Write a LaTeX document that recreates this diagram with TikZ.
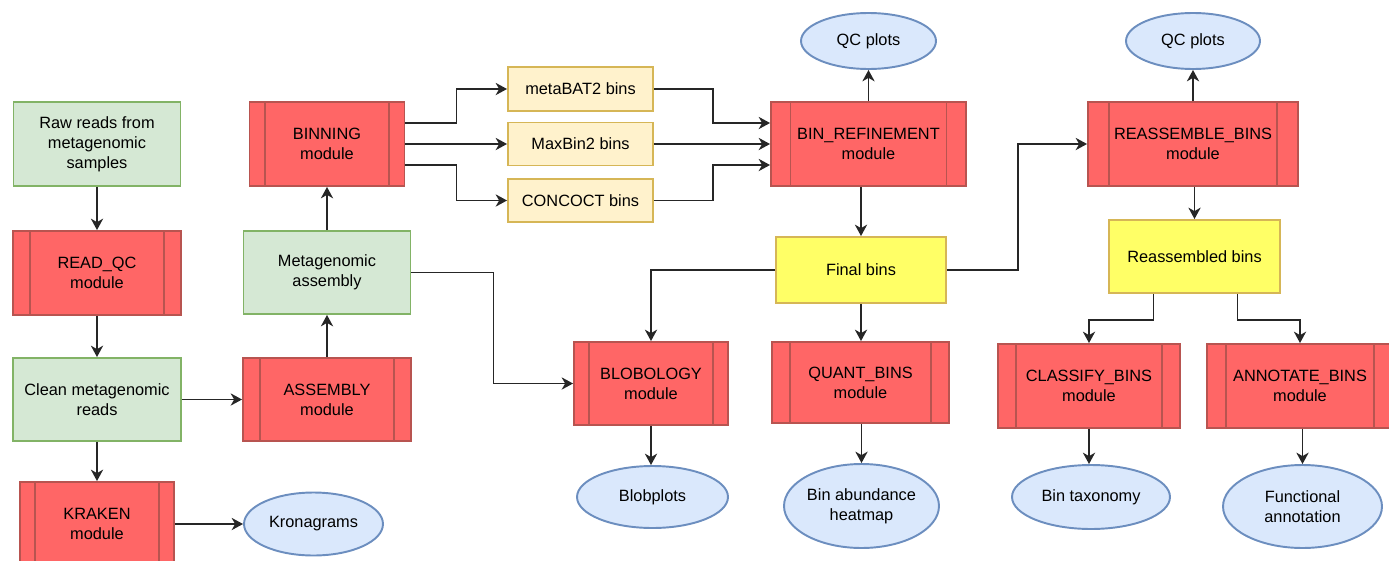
\documentclass[tikz,border=0pt]{standalone}
\usepackage{fontspec}
\setmainfont{Liberation Sans}
\usepackage{tikz}
\usetikzlibrary{arrows.meta,shapes.geometric,calc}

\definecolor{modfill}{HTML}{FF6666}
\definecolor{moddraw}{HTML}{B85450}
\definecolor{datafill}{HTML}{D5E8D4}
\definecolor{datadraw}{HTML}{82B366}
\definecolor{binfill}{HTML}{FFF2CC}
\definecolor{bindraw}{HTML}{D6B656}
\definecolor{finalfill}{HTML}{FFFF66}
\definecolor{outfill}{HTML}{DAE8FC}
\definecolor{outdraw}{HTML}{6C8EBF}

\tikzset{
  box/.style={rectangle, line width=1.1pt, inner sep=0pt, align=center,
    font=\fontsize{9.3}{11.4}\selectfont},
  module/.style={box, draw=moddraw, fill=modfill,
    path picture={
      \draw[moddraw, line width=1.1pt]
        ($(path picture bounding box.south west)!0.1!(path picture bounding box.south east)$) --
        ($(path picture bounding box.north west)!0.1!(path picture bounding box.north east)$)
        ($(path picture bounding box.south west)!0.9!(path picture bounding box.south east)$) --
        ($(path picture bounding box.north west)!0.9!(path picture bounding box.north east)$);
    }},
  data/.style={box, draw=datadraw, fill=datafill},
  binbox/.style={box, draw=bindraw, fill=binfill},
  finalbox/.style={box, draw=bindraw, fill=finalfill},
  output/.style={ellipse, draw=outdraw, fill=outfill, line width=1.1pt, inner sep=0pt,
    align=center, font=\fontsize{9.3}{11.4}\selectfont},
  conn/.style={draw=black!85, line width=0.85pt, ->},
  >={Stealth[length=6.5pt,width=7pt,inset=2pt]}
}

\begin{document}
\begin{tikzpicture}[x=0.02cm,y=-0.02cm]
    \clip (0,0) rectangle (1389,561);

    % Reads and QC
    \node[data, minimum width=3.34cm, minimum height=1.68cm] (raw) at (97,144) {Raw reads from\\metagenomic\\samples};
    \node[module, minimum width=3.36cm, minimum height=1.68cm] (readqc) at (97,273) {READ\_QC\\module};
    \node[data, minimum width=3.36cm, minimum height=1.66cm] (clean) at (97,399.5) {Clean metagenomic\\reads};
    \node[module, minimum width=3.08cm, minimum height=1.68cm] (kraken) at (97,524) {KRAKEN\\module};
    \node[output, minimum width=2.78cm, minimum height=1.26cm] (krona) at (313.5,524) {Kronagrams};

    % Assembly
    \node[module, minimum width=3.36cm, minimum height=1.66cm] (assembly) at (327,399.5) {ASSEMBLY\\module};
    \node[data, minimum width=3.34cm, minimum height=1.66cm] (metaasm) at (327,272.5) {Metagenomic\\assembly};
    \node[module, minimum width=3.1cm, minimum height=1.68cm] (binning) at (327,144) {BINNING\\module};

    % Binners
    \node[binbox, minimum width=2.9cm, minimum height=0.88cm] (metabat) at (580.5,89) {metaBAT2 bins};
    \node[binbox, minimum width=2.9cm, minimum height=0.86cm] (maxbin) at (580.5,144) {MaxBin2 bins};
    \node[binbox, minimum width=2.9cm, minimum height=0.86cm] (concoct) at (580.5,200.5) {CONCOCT bins};

    % Refinement
    \node[module, minimum width=3.9cm, minimum height=1.68cm] (binref) at (868.5,144) {BIN\_REFINEMENT\\module};
    \node[output, minimum width=2.7cm, minimum height=1.12cm] (qcone) at (868.5,41) {QC plots};
    \node[finalbox, minimum width=3.4cm, minimum height=1.32cm] (final) at (861,270) {Final bins};
    \node[module, minimum width=3.08cm, minimum height=1.66cm] (blobology) at (651,383.5) {BLOBOLOGY\\module};
    \node[module, minimum width=3.54cm, minimum height=1.62cm] (quant) at (860.5,382.5) {QUANT\_BINS\\module};
    \node[output, minimum width=3.02cm, minimum height=1.24cm] (blobplots) at (652.5,497) {Blobplots};
    \node[output, minimum width=3.1cm, minimum height=1.68cm] (heatmap) at (861.5,506) {Bin abundance\\heatmap};

    % Reassembly
    \node[module, minimum width=4.2cm, minimum height=1.68cm] (reasm) at (1193,144) {REASSEMBLE\_BINS\\module};
    \node[output, minimum width=2.68cm, minimum height=1.12cm] (qctwo) at (1193,41) {QC plots};
    \node[finalbox, minimum width=3.42cm, minimum height=1.46cm] (reasmbins) at (1194.5,256.5) {Reassembled bins};
    \node[module, minimum width=3.64cm, minimum height=1.68cm] (classify) at (1089,386) {CLASSIFY\_BINS\\module};
    \node[module, minimum width=3.72cm, minimum height=1.68cm] (annotate) at (1300,386) {ANNOTATE\_BINS\\module};
    \node[output, minimum width=3.16cm, minimum height=1.28cm] (taxonomy) at (1091,497) {Bin taxonomy};
    \node[output, minimum width=3.18cm, minimum height=1.66cm] (funcann) at (1302.5,506.5) {Functional\\annotation};

    % Connectors, left part
    \draw[conn] (raw) -- (readqc);
    \draw[conn] (readqc) -- (clean);
    \draw[conn] (clean) -- (assembly);
    \draw[conn] (clean) -- (kraken);
    \draw[conn] (kraken) -- (krona);
    \draw[conn] (assembly) -- (metaasm);
    \draw[conn] (metaasm) -- (binning);
    \draw[conn] (metaasm.east) -- ++(82,0) |- (blobology.west);

    % Connectors, binners
    \draw[conn] ($(binning.east)+(0,-21)$) -- ++(51,0) |- (metabat.west);
    \draw[conn] (binning.east) -- (maxbin.west);
    \draw[conn] ($(binning.east)+(0,21)$) -- ++(51,0) |- (concoct.west);
    \draw[conn] (metabat.east) -- ++(59,0) |- ($(binref.west)+(0,-21)$);
    \draw[conn] (maxbin.east) -- (binref.west);
    \draw[conn] (concoct.east) -- ++(59,0) |- ($(binref.west)+(0,21)$);

    % Connectors, refinement
    \draw[conn] (binref) -- (qcone);
    \draw[conn] (binref.south -| final.north) -- (final.north);
    \draw[conn] (final.west) -| (blobology.north);
    \draw[conn] (final) -- (final |- quant.north);
    \draw[conn] (blobology) -- (blobology |- blobplots.north);
    \draw[conn] (quant.south -| heatmap.north) -- (heatmap.north);
    \draw[conn] (final.east) -- ++(71,0) |- (reasm.west);

    % Connectors, reassembly
    \draw[conn] (reasm) -- (qctwo);
    \draw[conn] (reasm.south -| reasmbins.north) -- (reasmbins.north);
    \draw[conn] ($(reasmbins.south)+(-41,0)$) -- ++(0,26) -| (classify.north);
    \draw[conn] ($(reasmbins.south)+(43,0)$) -- ++(0,26) -| (annotate.north);
    \draw[conn] (classify) -- (classify |- taxonomy.north);
    \draw[conn] (annotate.south -| funcann.north) -- (funcann.north);
\end{tikzpicture}
\end{document}
